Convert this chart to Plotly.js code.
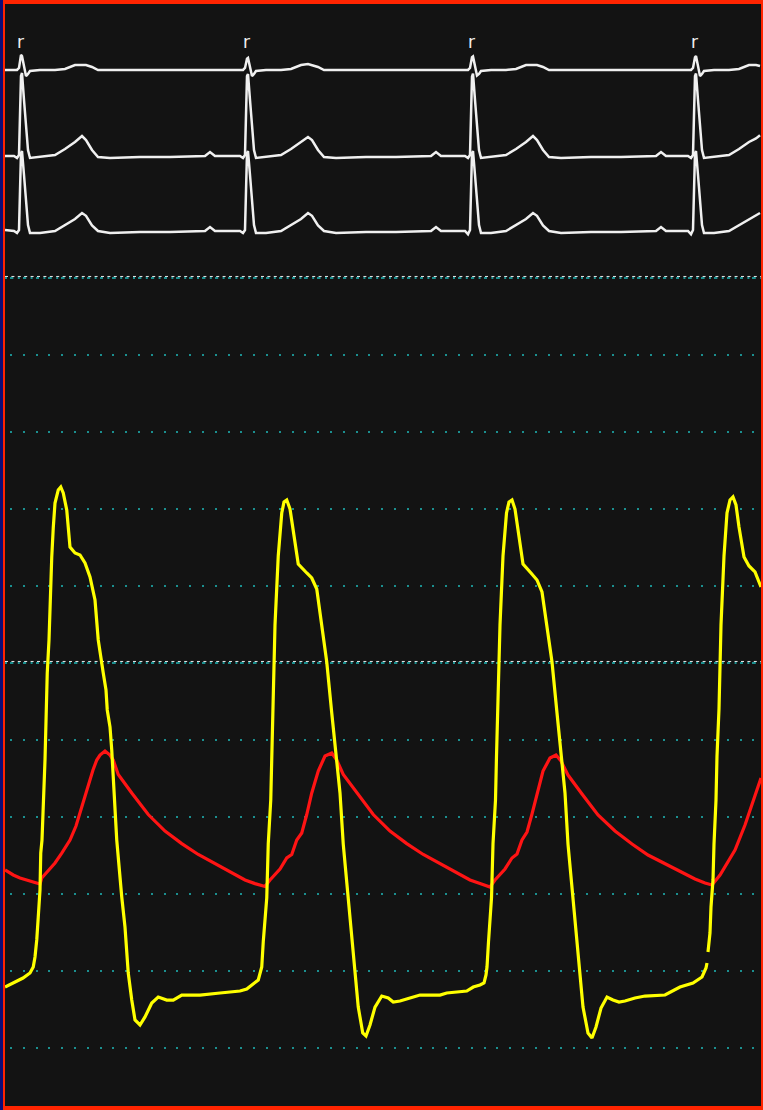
<!DOCTYPE html>
<html>
<head>
<meta charset="utf-8">
<script src="https://cdn.plot.ly/plotly-3.0.1.min.js"></script>
<style>
  html, body { margin: 0; padding: 0; background: #131313; }
  #frame { position: absolute; left: 0; top: 0; width: 763px; height: 1110px; box-sizing: border-box;
           background: #ff2400; border-left: 3px solid #0c0c78; }
  #chart { position: absolute; left: 5px; top: 4px; width: 756px; height: 1102px; }
</style>
</head>
<body>
<div id="frame"></div>
<div id="chart"></div>
<script>
// ---- ECG (three leads, mV) sampled at shared times (ms) ----
const ecgTime = [
  0,36,48,56,64,68,76,84,92,100,140,200,240,280,308,324,348,372,420,540,660,800,820,840,900,
  940,952,960,968,972,980,988,996,1004,1044,1104,1144,1184,1212,1228,1252,1276,1324,1444,1564,1704,1724,1744,1804,
  1840,1852,1860,1868,1872,1880,1888,1896,1904,1944,2004,2044,2084,2112,2128,2152,2176,2224,2344,2464,2604,2624,2644,2704,
  2732,2744,2752,2760,2764,2772,2780,2788,2796,2836,2896,2936,2976,3004,3020
];
const leadI = [
  0, 0,0,0.025,0.1875,0.175,0.05,-0.075,-0.05,-0.0125,0,0,0.0125,0.0625,0.0625,0.0625,0.0375,0,0,0,0,0,0,0,0,
  0,0,0.025,0.14,0.15,0.05,-0.075,-0.05,-0.0125,0,0,0.0125,0.0625,0.075,0.0625,0.0375,0,0,0,0,0,0,0,0,
  0,0,0.025,0.16,0.17,0.05,-0.07,-0.05,-0.0125,0,0,0.0125,0.0625,0.0625,0.0625,0.0375,0,0,0,0,0,0,0,0,
  0,0,0.025,0.16,0.175,0.05,-0.075,-0.05,-0.0125,0,0,0.0125,0.0625,0.0625,0.05
];
const leadII = [
  0, 0,-0.025,0.0125,1.0,1.0375,0.7,0.325,0.075,-0.025,-0.0125,0.0125,0.0875,0.175,0.25,0.2,0.075,-0.0125,-0.025,-0.0125,-0.0125,0,0.05,0,0,
  0,-0.025,0.0125,1.0,1.025,0.7,0.325,0.075,-0.025,-0.0125,0.0125,0.0875,0.175,0.2375,0.2,0.075,-0.0125,-0.025,-0.0125,-0.0125,0,0.05,0,0,
  0,-0.025,0.0125,0.99,1.03,0.7,0.325,0.075,-0.025,-0.0125,0.0125,0.0875,0.175,0.25,0.2,0.075,-0.0125,-0.025,-0.0125,-0.0125,0,0.05,0,0,
  0,-0.025,0.0125,1.0,1.03,0.7,0.325,0.075,-0.025,-0.0125,0.0125,0.0875,0.175,0.22,0.26
];
const leadIII = [
  0.0125, 0,-0.025,0.0125,0.975,1.0,0.7,0.325,0.075,-0.025,-0.025,0,0.075,0.15,0.225,0.19,0.07,0,-0.025,-0.0125,-0.0125,0,0.05,0,0,
  0,-0.025,0.0125,0.975,1.0,0.7,0.325,0.075,-0.025,-0.025,0,0.075,0.15,0.225,0.19,0.07,0,-0.025,-0.0125,-0.0125,0,0.05,0,0,
  0,-0.04,0.0125,0.975,1.0,0.7,0.325,0.075,-0.025,-0.025,0,0.075,0.15,0.225,0.19,0.07,0,-0.025,-0.0125,-0.0125,0,0.05,0,0,
  0,-0.04,0.0125,0.975,1.0,0.7,0.325,0.075,-0.025,-0.025,0,0.075,0.15,0.2,0.225
];
// R-wave markers
const rTimes = [60, 964, 1864, 2756];
const rLabel = 'r';

// ---- Action potential (yellow) ----
const apTime = [
  0,33,72,100,113,120,127,133,140,143,148,160,163,169,176,180,187,193,200,213,223,233,247,260,280,300,320,340,360,373,387,393,404,409,420,427,447,460,467,480,493,507,520,540,560,587,613,647,673,707,780,860,940,
  967,1013,1027,1033,1047,1053,1063,1067,1073,1080,1093,1107,1116,1127,1140,1153,1173,1207,1227,1247,1267,1287,1307,1327,1340,1353,1373,1393,1413,1431,1444,1460,1480,1507,1533,1553,1580,1620,1660,1740,1767,1847,1873,1900,
  1916,1924,1928,1934,1946,1952,1962,1966,1972,1980,1992,2006,2016,2028,2040,2052,2072,2104,2128,2148,2168,2188,2208,2228,2240,2252,2272,2292,2312,2332,2348,2364,2384,2408,2432,2456,2480,2520,2560,2640,2700,2752,2788,2804,2808,2810,2812,2820,2824,2832,
  2836,2844,2848,2856,2864,2876,2888,2900,2912,2924,2936,2956,2976,3000,3024
];
const apValue = [
  7.92,8.44,9.09,9.74,10.52,11.82,14.03,17.01,20.52,25.32,27.01,37.40,42.60,48.70,52.99,58.18,63.77,67.53,70.78,72.47,72.86,72.08,69.87,65.06,64.29,64.03,62.99,61.17,58.18,52.99,50.39,48.70,46.49,43.90,41.69,38.70,27.01,21.43,19.61,15.71,9.74,6.23,3.64,2.99,4.03,5.84,6.62,6.23,6.23,6.88,6.88,7.14,7.40,
  7.66,8.83,10.52,13.77,19.48,26.49,32.21,37.92,44.03,54.94,63.90,69.48,70.91,71.17,70.00,67.14,62.86,61.69,61.04,59.61,54.94,50.13,43.51,36.88,33.12,26.49,19.48,12.34,5.32,1.95,1.56,2.99,5.32,6.75,6.49,5.97,6.10,6.49,6.88,6.88,7.14,7.40,7.92,8.18,
  8.44,9.48,10.52,13.77,19.48,26.49,32.21,37.92,44.03,54.94,63.90,69.48,70.91,71.17,70.00,67.14,62.86,61.69,60.78,59.22,54.94,50.13,43.51,36.88,33.12,26.49,19.48,12.34,5.32,1.95,1.30,2.73,5.19,6.62,6.23,5.97,6.10,6.49,6.75,6.88,7.92,8.44,9.22,10.39,11.04,null,12.47,14.94,18.31,21.82,
  26.49,32.21,37.92,44.03,54.94,63.90,69.48,71.17,71.56,70.52,67.66,63.77,62.60,61.82,59.87
];

// ---- Calcium transient (red) ----
const caTime = [
  0,33,60,100,133,140,147,167,200,227,247,260,284,308,332,352,367,380,400,420,433,453,507,573,640,707,773,840,907,960,1000,1040,
  1060,1100,1127,1147,1167,1187,1207,1227,1253,1280,1307,1327,1353,1407,1473,1540,1607,1673,1740,1807,1860,1900,1940,
  1960,2000,2028,2048,2068,2088,2108,2128,2152,2180,2204,2224,2252,2308,2372,2440,2508,2572,2640,2708,2760,2800,2828,
  2860,2920,2960,2988,3024
];
const caValue = [
  23.12,22.47,22.08,21.69,21.43,21.30,22.08,22.86,24.03,25.32,26.36,27.01,28.83,31.43,34.16,36.10,37.40,38.05,38.57,38.05,37.40,35.52,33.12,30.32,28.18,26.55,25.13,23.95,22.77,21.82,21.35,20.97,
  21.82,23.25,24.68,25.13,27.01,27.92,30.32,33.12,35.97,37.92,38.31,37.40,35.52,33.12,30.32,28.18,26.55,25.13,23.95,22.77,21.82,21.35,20.91,
  21.82,23.25,24.68,25.19,27.01,28.05,30.39,33.12,35.97,37.66,38.05,37.27,35.45,32.99,30.26,28.18,26.49,25.06,23.90,22.73,21.95,21.43,21.17,
  22.47,25.71,28.96,31.56,35.06
];

// grid levels of the lower panel
const gridLevels = [0,10,20,30,40,50,60,70,80,90,100];
const majorLevels = [50,100];

const white = '#f0f0f0';
const traces = [
  {x: ecgTime, y: leadI,   yaxis: 'y2', mode: 'lines', line: {color: white, width: 2.5}, hoverinfo: 'skip'},
  {x: ecgTime, y: leadII,  yaxis: 'y3', mode: 'lines', line: {color: white, width: 2.5}, hoverinfo: 'skip'},
  {x: ecgTime, y: leadIII, yaxis: 'y4', mode: 'lines', line: {color: white, width: 2.5}, hoverinfo: 'skip'},
  {x: caTime, y: caValue, yaxis: 'y', mode: 'lines', line: {color: '#ff1414', width: 3.2}, hoverinfo: 'skip'},
  {x: apTime, y: apValue, yaxis: 'y', mode: 'lines', connectgaps: false, line: {color: '#ffff00', width: 3.2}, hoverinfo: 'skip'}
];

const shapes = [];
majorLevels.forEach(v => {
  shapes.push({type: 'line', xref: 'paper', x0: 0, x1: 1, yref: 'y', y0: v, y1: v,
               line: {color: '#1b8f8f', width: 2, dash: '2px,4.4px'}, layer: 'below'});
  shapes.push({type: 'line', xref: 'paper', x0: 0, x1: 1, yref: 'y', y0: v + 0.2, y1: v + 0.2,
               line: {color: '#e8e8e8', width: 1, dash: '3px,3.4px'}, layer: 'below'});
});

const hidden = {showgrid: false, zeroline: false, showticklabels: false, ticks: '', showline: false, fixedrange: true};
const layout = {
  width: 756, height: 1102,
  margin: {l: 0, r: 0, t: 0, b: 0, pad: 0},
  paper_bgcolor: '#131313', plot_bgcolor: '#131313',
  showlegend: false,
  xaxis: Object.assign({}, hidden, {range: [0, 3024]}),
  yaxis: Object.assign({}, hidden, {range: [-7.532, 135.584], tickmode: 'array', tickvals: gridLevels,
          showgrid: true, gridcolor: '#1b8f8f', gridwidth: 2, griddash: '0px,5px,2px,5.8px'}),
  yaxis2: Object.assign({}, hidden, {range: [-12.95, 0.825], overlaying: 'y'}),
  yaxis3: Object.assign({}, hidden, {range: [-11.875, 1.9], overlaying: 'y'}),
  yaxis4: Object.assign({}, hidden, {range: [-10.9375, 2.8375], overlaying: 'y'}),
  shapes: shapes,
  annotations: rTimes.map(t => ({x: t, y: 0.35, xref: 'x', yref: 'y2', text: rLabel, showarrow: false,
    font: {color: white, size: 17, family: 'DejaVu Sans'}}))
};

Plotly.newPlot('chart', traces, layout, {staticPlot: true, displayModeBar: false});
</script>
</body>
</html>
